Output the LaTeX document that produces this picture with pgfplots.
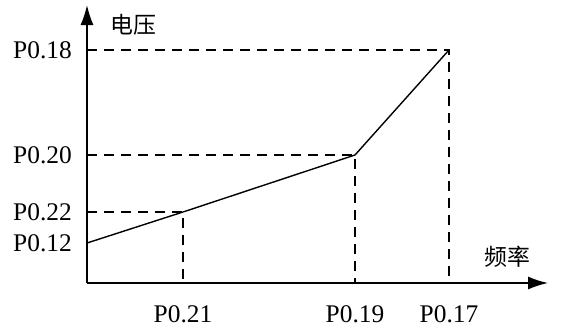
\documentclass[border=0pt]{standalone}
\usepackage{fontspec}
\setmainfont{Liberation Serif}
\newfontfamily\cjk{Noto Sans CJK SC}
\usepackage{pgfplots}
\pgfplotsset{compat=1.18}
\usetikzlibrary{arrows.meta}

\begin{document}
\begin{tikzpicture}
\begin{axis}[
  x=1bp, y=1bp,
  xmin=0, xmax=461,
  ymin=0, ymax=278,
  axis lines=left,
  axis line style={line width=1.6bp},
  x axis line style={-{Latex[length=20bp,width=13bp]}},
  y axis line style={-{Latex[length=20bp,width=13bp]}},
  clip=false,
  major tick length=0pt,
  xtick={96,268,362},
  xticklabels={P0.21,P0.19,P0.17},
  ytick={40,71,128,233},
  yticklabels={P0.12,P0.22,P0.20,P0.18},
  tick label style={font=\fontsize{25.5}{30}\selectfont, inner sep=0pt},
  xticklabel style={anchor=base, yshift=-39bp},
  yticklabel style={anchor=east, xshift=-15bp},
  dashstyle/.style={black, line width=1.2bp, dash pattern=on 10bp off 7bp},
]
% guides
\addplot[dashstyle] coordinates {(0,71) (96,71) (96,0)};
\addplot[dashstyle] coordinates {(0,128) (268,128) (268,0)};
\addplot[dashstyle] coordinates {(0,233) (362,233) (362,0)};
% curve
\addplot[black, line width=1.4bp] coordinates {(0,40) (96,71) (268,128) (362,233)};
\node[font=\cjk\fontsize{23}{26}\selectfont] at (axis cs:46,258) {电压};
\node[font=\cjk\fontsize{23}{26}\selectfont] at (axis cs:420,26) {频率};
\path (axis cs:-87,-46) rectangle (axis cs:475,283);
\end{axis}
\end{tikzpicture}
\end{document}
